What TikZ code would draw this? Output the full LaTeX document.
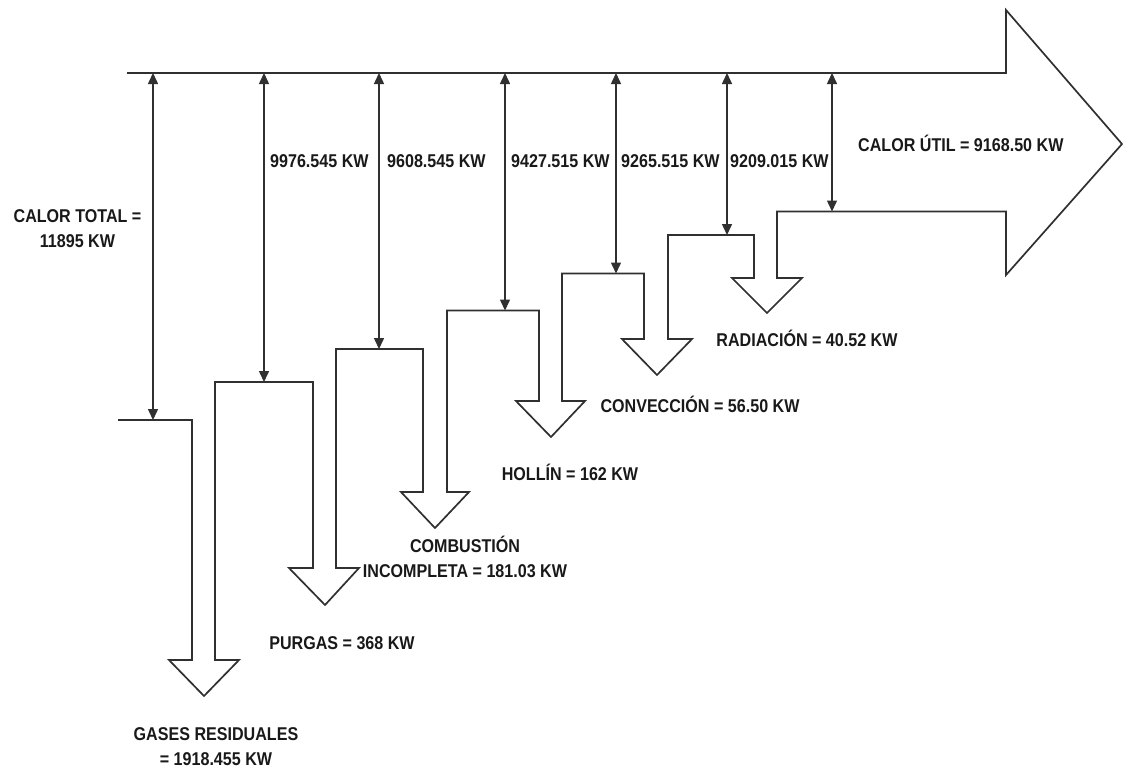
\documentclass[tikz,border=0pt]{standalone}
\usepackage{fontspec}
\newfontfamily\labfont{Liberation Sans}[FakeStretch=0.87]
\usetikzlibrary{arrows.meta}
\definecolor{linegray}{HTML}{303030}
\tikzset{
  outline/.style={draw=linegray, line width=1.7pt, line join=miter},
  dim/.style={draw=linegray, line width=1.5pt, {Triangle[length=11pt,width=10pt]}-{Triangle[length=11pt,width=10pt]}},
  lab/.style={inner sep=0pt, font=\labfont\bfseries\fontsize{18.5}{25}\selectfont, text=black!90, align=center}
}
\begin{document}
\begin{tikzpicture}[x=1pt,y=-1pt]
\useasboundingbox (0,0) rectangle (1127,769);
% main outline (staircase + big arrow)
\draw[outline] (118,420) -- (192,420) -- (192,660) -- (169,660) -- (204,696) -- (239,660) -- (215,660)
  -- (215,382) -- (313,382) -- (313,568) -- (289,568) -- (325,605) -- (359,568) -- (336,568)
  -- (336,349) -- (423,349) -- (423,492) -- (401,492) -- (435,528) -- (469,492) -- (447,492)
  -- (447,310.5) -- (539,310.5) -- (539,401) -- (516,401) -- (551,437) -- (585,401) -- (562,401)
  -- (562,273.5) -- (644,273.5) -- (644,339) -- (622,339) -- (657,375) -- (692,339) -- (668,339)
  -- (668,235) -- (754,235) -- (754,278) -- (732,278) -- (767,313) -- (802,278) -- (777,278)
  -- (777,211.5) -- (1006,211.5) -- (1006,275) -- (1122,144) -- (1006,10) -- (1006,73) -- (127,73);
% coordinates of the dimension arrows
\coordinate (t1) at (153,73);   \coordinate (b1) at (153,420);
\coordinate (t2) at (264,73);   \coordinate (b2) at (264,382);
\coordinate (t3) at (379,73);   \coordinate (b3) at (379,349);
\coordinate (t4) at (505,73);   \coordinate (b4) at (505,310.5);
\coordinate (t5) at (616,73);   \coordinate (b5) at (616,273.5);
\coordinate (t6) at (727,73);   \coordinate (b6) at (727,235);
\coordinate (t7) at (832,73);   \coordinate (b7) at (832,211.5);
\foreach \i in {1,...,7} { \draw[dim] (t\i) -- (b\i); }
% labels
\node[lab] (total) at (77.5,229) {CALOR TOTAL =\\11895 KW};
\node[lab, anchor=west] (v2) at (270,161) {9976.545 KW};
\node[lab, anchor=west] (v3) at (387,161) {9608.545 KW};
\node[lab, anchor=west] (v4) at (511,161) {9427.515 KW};
\node[lab, anchor=west] (v5) at (621,161) {9265.515 KW};
\node[lab, anchor=west] (v6) at (730,161) {9209.015 KW};
\node[lab, anchor=west] (util) at (858,143) {CALOR ÚTIL = 9168.50 KW};
\node[lab] (gases) at (216,747) {GASES RESIDUALES\\= 1918.455 KW};
\node[lab] (purgas) at (342,643) {PURGAS = 368 KW};
\node[lab] (comb) at (465,557) {COMBUSTIÓN\\INCOMPLETA = 181.03 KW};
\node[lab] (hollin) at (570,472) {HOLLÍN = 162 KW};
\node[lab] (conv) at (700,404) {CONVECCIÓN = 56.50 KW};
\node[lab] (rad) at (807,338) {RADIACIÓN = 40.52 KW};
\end{tikzpicture}
\end{document}
